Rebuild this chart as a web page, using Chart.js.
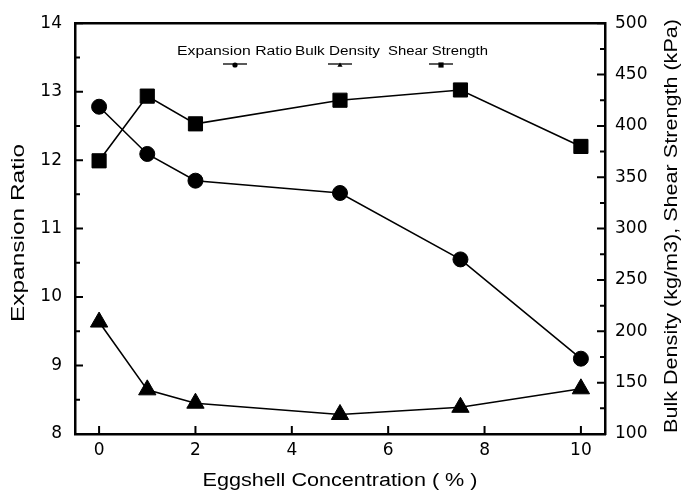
<!DOCTYPE html>
<html>
<head>
<meta charset="utf-8">
<script src="https://cdn.jsdelivr.net/npm/chart.js@4.4.1/dist/chart.umd.min.js"></script>
<style>
  html, body { margin: 0; padding: 0; background: #fff; }
</style>
</head>
<body>
<canvas id="chart" width="681" height="495"></canvas>
<script>
'use strict';

// ── data
const CONC        = [0, 1, 2, 5, 7.5, 10];
const EXPANSION   = [12.78, 12.09, 11.70, 11.52, 10.55, 9.10];
const BULK        = [209, 143, 130, 119, 126, 144];
const SHEAR       = [366, 429, 402, 425, 435, 380];

const X_TICKS     = [0, 2, 4, 6, 8, 10];
const LEFT_TICKS  = [8, 9, 10, 11, 12, 13, 14];
const RIGHT_TICKS = [100, 150, 200, 250, 300, 350, 400, 450, 500];

const LEGEND_LABELS = ['Expansion Ratio', 'Bulk Density', 'Shear Strength'];
const X_TITLE     = 'Eggshell Concentration ( % )';
const LEFT_TITLE  = 'Expansion Ratio';
const RIGHT_TITLE = 'Bulk Density (kg/m3), Shear Strength (kPa)';

const INK = '#000';
const TICK_FONT = { family: '"DejaVu Sans", sans-serif', size: 17 };

const pts = (ys) => CONC.map((c, i) => ({ x: c, y: ys[i] }));
const useTicks = (arr) => (s) => { s.ticks = arr.map(v => ({ value: v })); };

// text in the scan is wider than Arial, so stretch along the baseline
function stretchText(ctx, txt, cx, cy, size, width, rot) {
  ctx.save();
  ctx.font = size + 'px "Liberation Sans", Arial, sans-serif';
  const w = ctx.measureText(txt).width;
  ctx.translate(cx, cy);
  if (rot) ctx.rotate(rot);
  ctx.scale(width / w, 1);
  ctx.textAlign = 'center';
  ctx.textBaseline = 'middle';
  ctx.fillStyle = INK;
  ctx.fillText(txt, 0, 0);
  ctx.restore();
}

function marker(ctx, style, x, y, r) {
  ctx.beginPath();
  if (style === 'circle') ctx.arc(x, y, r, 0, Math.PI * 2);
  else if (style === 'triangle') { ctx.moveTo(x, y - r); ctx.lineTo(x + r, y + r * 0.7); ctx.lineTo(x - r, y + r * 0.7); ctx.closePath(); }
  else ctx.rect(x - r, y - r, r * 2, r * 2);
  ctx.fill();
}

const framePlugin = {
  id: 'frame',
  afterDraw(chart) {
    const ctx = chart.ctx;
    const a = chart.chartArea;
    const sx = chart.scales.x, sl = chart.scales.y, sr = chart.scales.y1;
    ctx.save();
    ctx.strokeStyle = INK;
    // top border
    ctx.lineWidth = 2.5;
    ctx.beginPath(); ctx.moveTo(a.left - 1, a.top); ctx.lineTo(a.right + 1, a.top); ctx.stroke();
    // inward tick marks
    ctx.lineWidth = 2;
    ctx.beginPath();
    X_TICKS.forEach(v => { const p = sx.getPixelForValue(v); ctx.moveTo(p, a.bottom); ctx.lineTo(p, a.bottom - 8); });
    LEFT_TICKS.forEach((v, i) => {
      const p = sl.getPixelForValue(v); ctx.moveTo(a.left, p); ctx.lineTo(a.left + 8, p);
      if (i < LEFT_TICKS.length - 1) {
        const m = sl.getPixelForValue((v + LEFT_TICKS[i + 1]) / 2); ctx.moveTo(a.left, m); ctx.lineTo(a.left + 5, m);
      }
    });
    RIGHT_TICKS.forEach((v, i) => {
      const p = sr.getPixelForValue(v); ctx.moveTo(a.right, p); ctx.lineTo(a.right - 8, p);
      if (i < RIGHT_TICKS.length - 1) {
        const m = sr.getPixelForValue((v + RIGHT_TICKS[i + 1]) / 2); ctx.moveTo(a.right, m); ctx.lineTo(a.right - 5, m);
      }
    });
    ctx.stroke();

    // axis titles
    stretchText(ctx, X_TITLE, 340, 481, 18, 275, 0);
    stretchText(ctx, LEFT_TITLE, 19, 233, 17.5, 178, -Math.PI / 2);
    stretchText(ctx, RIGHT_TITLE, 672, 226, 18, 414, -Math.PI / 2);

    // legend: label text with a little line + marker underneath
    const legendPos = [[177, 115, 235], [295, 85, 340], [388, 100, 441]];
    const styles = ['circle', 'triangle', 'rect'];
    ctx.fillStyle = INK;
    ctx.lineWidth = 1.3;
    LEGEND_LABELS.forEach((lab, i) => {
      const [lx, lw, sxc] = legendPos[i];
      stretchText(ctx, lab, lx + lw / 2, 52, 12.5, lw, 0);
      ctx.beginPath(); ctx.moveTo(sxc - 12, 64); ctx.lineTo(sxc + 12, 64); ctx.stroke();
      marker(ctx, styles[i], sxc, 65, 2.6);
    });
    ctx.restore();
  }
};

const lineDs = (label, data, axis, style, radius) => ({
  label, data, yAxisID: axis,
  borderColor: INK, backgroundColor: INK, borderWidth: 1.6,
  pointStyle: style, pointRadius: radius, pointHoverRadius: radius,
  pointBackgroundColor: INK, pointBorderColor: INK, pointBorderWidth: 1,
  tension: 0, fill: false,
});

new Chart(document.getElementById('chart'), {
  type: 'line',
  data: {
    datasets: [
      lineDs(LEGEND_LABELS[0], pts(EXPANSION), 'y', 'circle', 7.5),
      lineDs(LEGEND_LABELS[1], pts(BULK), 'y1', 'triangle', 10),
      lineDs(LEGEND_LABELS[2], pts(SHEAR), 'y1', 'rect', 10),
    ],
  },
  options: {
    responsive: false,
    animation: false,
    events: [],
    layout: { padding: { top: 20, left: 0, right: 0, bottom: 0 } },
    plugins: { legend: { display: false }, tooltip: { enabled: false } },
    scales: {
      x: {
        type: 'linear', min: -0.5, max: 10.5,
        afterBuildTicks: useTicks(X_TICKS),
        afterFit: (s) => { s.height = 61; },
        grid: { display: false, drawTicks: false },
        border: { display: true, color: INK, width: 2.5 },
        ticks: { color: INK, font: TICK_FONT, padding: 6, maxRotation: 0 },
      },
      y: {
        position: 'left', min: 8, max: 14,
        afterBuildTicks: useTicks(LEFT_TICKS),
        afterFit: (s) => { s.width = 75; },
        grid: { display: false, drawTicks: false },
        border: { display: true, color: INK, width: 2.5 },
        ticks: { color: INK, font: TICK_FONT, padding: 13 },
      },
      y1: {
        position: 'right', min: 100, max: 500,
        afterBuildTicks: useTicks(RIGHT_TICKS),
        afterFit: (s) => { s.width = 76; },
        grid: { display: false, drawTicks: false },
        border: { display: true, color: INK, width: 2.5 },
        ticks: { color: INK, font: TICK_FONT, padding: 10 },
      },
    },
  },
  plugins: [framePlugin],
});
</script>
</body>
</html>
